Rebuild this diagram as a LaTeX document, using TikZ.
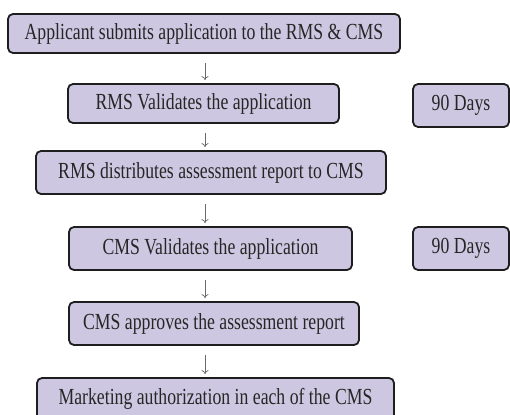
\documentclass[tikz,border=0pt]{standalone}
\usepackage{fontspec}
\setmainfont{Liberation Serif}[FakeStretch=0.77]
\usetikzlibrary{arrows.meta}
\definecolor{boxfill}{HTML}{CEC7E1}
\definecolor{boxline}{HTML}{1E1E1E}
\definecolor{txt}{HTML}{262626}
\definecolor{arrc}{HTML}{6A6A6A}
\tikzset{
  stepbox/.style={draw=boxline, line width=1.8pt, fill=boxfill, rounded corners=5pt,
    inner sep=0pt, text=txt, font=\fontsize{23}{26}\selectfont},
  arr/.style={draw=arrc, line width=0.7pt, -{To[length=4pt,width=7pt]}, shorten >=3pt, shorten <=9pt},
}
\begin{document}
\begin{tikzpicture}[x=1pt,y=-1pt]
\useasboundingbox (0,0) rectangle (510,414);
\clip (0,0) rectangle (510,414);
\node[stepbox, minimum width=392pt, minimum height=39pt] (b1) at (204,33.5) {Applicant submits application to the RMS \& CMS};
\node[stepbox, minimum width=271pt, minimum height=39pt] (b2) at (203.5,103.5) {RMS Validates the application};
\node[stepbox, minimum width=96pt, minimum height=43pt] (d1) at (461,105.5) {90 Days};
\node[stepbox, minimum width=350pt, minimum height=43pt] (b3) at (211,172.5) {RMS distributes assessment report to CMS};
\node[stepbox, minimum width=283pt, minimum height=43pt] (b4) at (210.5,248.5) {CMS Validates the application};
\node[stepbox, minimum width=96pt, minimum height=43pt] (d2) at (461,248.5) {90 Days};
\node[stepbox, minimum width=290pt, minimum height=43pt] (b5) at (214,323.5) {CMS approves the assessment report};
\node[stepbox, minimum width=357pt, minimum height=42pt] (b6) at (215.5,399) {Marketing authorization in each of the CMS};
\coordinate (ax) at (205,0);
\draw[arr] (b1.south -| ax) -- (b2.north -| ax);
\draw[arr] (b2.south -| ax) -- (b3.north -| ax);
\draw[arr] (b3.south -| ax) -- (b4.north -| ax);
\draw[arr] (b4.south -| ax) -- (b5.north -| ax);
\draw[arr] (b5.south -| ax) -- (b6.north -| ax);
\end{tikzpicture}
\end{document}
